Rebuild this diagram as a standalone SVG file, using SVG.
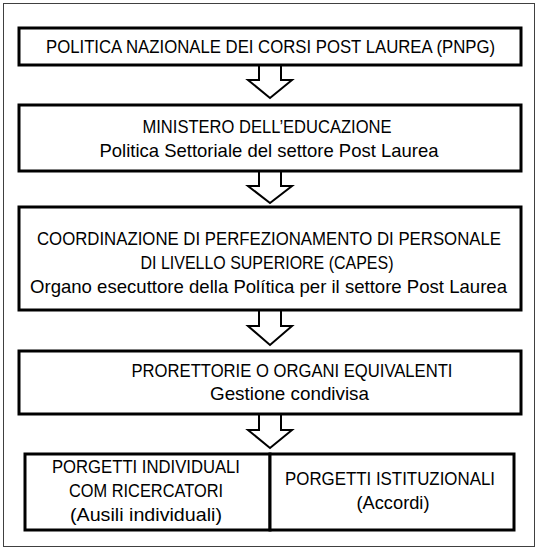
<svg xmlns="http://www.w3.org/2000/svg" width="538" height="550" viewBox="0 0 538 550">
<style>
.box{fill:#fff;stroke:#000;stroke-width:3}
.arr{fill:#fff;stroke:#000;stroke-width:2;stroke-linejoin:miter}
text{font-family:"Liberation Sans",Arial,sans-serif;font-size:18.5px;fill:#000;text-anchor:middle}
</style>
<rect x="0" y="0" width="538" height="550" fill="#fff"/>
<rect id="frame" x="3.5" y="3.5" width="531" height="543" fill="#fff" stroke="#404040" stroke-width="1"/>
<g id="connectors">
<path class="arr" d="M259,65 V80 H248 L270,98 L292,80 H281 V65"/>
<path class="arr" d="M259,171 V186 H248 L270,203 L292,186 H281 V171"/>
<path class="arr" d="M259,311 V326 H248 L270,345 L292,326 H281 V311"/>
<path class="arr" d="M259,414 V430 H248 L270,448 L292,430 H281 V414"/>
</g>
<g id="n1">
<rect class="box" x="19" y="28" width="502" height="37"/>
<text x="270.5" y="53" textLength="449" lengthAdjust="spacingAndGlyphs">POLITICA NAZIONALE DEI CORSI POST LAUREA (PNPG)</text>
</g>
<g id="n2">
<rect class="box" x="19" y="105" width="502" height="66"/>
<text x="267" y="133" textLength="249" lengthAdjust="spacingAndGlyphs">MINISTERO DELL’EDUCAZIONE</text>
<text x="269" y="157" textLength="339" lengthAdjust="spacingAndGlyphs">Politica Settoriale del settore Post Laurea</text>
</g>
<g id="n3">
<rect class="box" x="19" y="207" width="502" height="103"/>
<text x="269" y="245" textLength="464" lengthAdjust="spacingAndGlyphs">COORDINAZIONE DI PERFEZIONAMENTO DI PERSONALE</text>
<text x="267" y="269" textLength="253" lengthAdjust="spacingAndGlyphs">DI LIVELLO SUPERIORE (CAPES)</text>
<text x="268.5" y="293" textLength="477" lengthAdjust="spacingAndGlyphs">Organo esecuttore della Política per il settore Post Laurea</text>
</g>
<g id="n4">
<rect class="box" x="19" y="351" width="502" height="63"/>
<text x="292" y="377" textLength="321" lengthAdjust="spacingAndGlyphs">PRORETTORIE O ORGANI EQUIVALENTI</text>
<text x="289.5" y="400" textLength="159" lengthAdjust="spacingAndGlyphs">Gestione condivisa</text>
</g>
<g id="n5">
<rect class="box" x="25" y="454" width="245" height="76"/>
<text x="146" y="473" textLength="188" lengthAdjust="spacingAndGlyphs">PORGETTI INDIVIDUALI</text>
<text x="146" y="497" textLength="154" lengthAdjust="spacingAndGlyphs">COM RICERCATORI</text>
<text x="146" y="521" textLength="152" lengthAdjust="spacingAndGlyphs">(Ausili individuali)</text>
</g>
<g id="n6">
<rect class="box" x="270" y="454" width="244" height="76"/>
<text x="390" y="485" textLength="210" lengthAdjust="spacingAndGlyphs">PORGETTI ISTITUZIONALI</text>
<text x="393" y="509" textLength="73" lengthAdjust="spacingAndGlyphs">(Accordi)</text>
</g>
</svg>
